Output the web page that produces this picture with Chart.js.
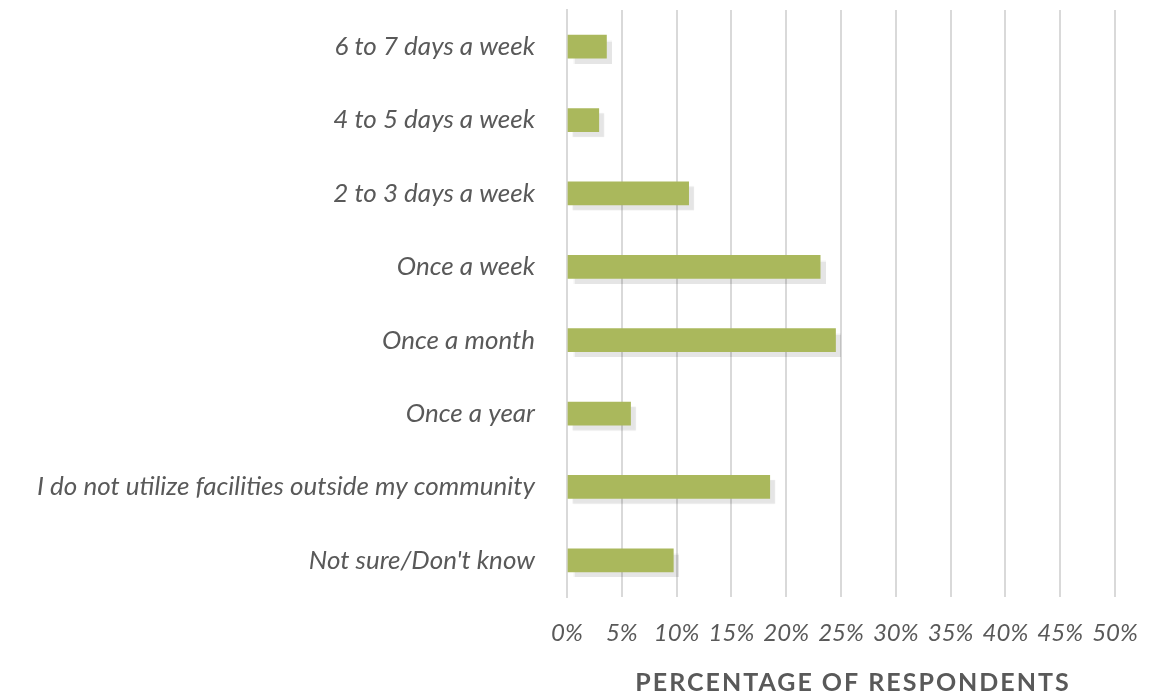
<!DOCTYPE html>
<html>
<head>
<meta charset="utf-8">
<title>Facility use outside the community</title>
<script src="https://cdn.jsdelivr.net/npm/chart.js@4.4.1/dist/chart.umd.min.js"></script>
<style>
    html, body { margin: 0; padding: 0; background: #ffffff; }
    #chart { display: block; }
</style>
</head>
<body>
<canvas id="chart" width="1164" height="698"></canvas>
<script>
// data
var categories = [
    '6 to 7 days a week',
    '4 to 5 days a week',
    '2 to 3 days a week',
    'Once a week',
    'Once a month',
    'Once a year',
    'I do not utilize facilities outside my community',
    "Not sure/Don't know"
];
var percentages = [3.6, 2.9, 11.1, 23.1, 24.5, 5.8, 18.5, 9.7];
var axisMin = 0;
var axisMax = 50;
var axisStep = 5;
var axisTitle = 'PERCENTAGE OF RESPONDENTS';

var textColor = '#595959';
var barColor = '#aab85c';
var gridColor = '#d9d9d9';

// grey drop shadow under the bars
var barShadow = {
    id: 'barShadow',
    beforeDatasetsDraw: function (chart) {
        var ctx = chart.ctx;
        ctx.save();
        ctx.shadowColor = 'rgba(0, 0, 0, 0.1)';
        ctx.shadowOffsetX = 5;
        ctx.shadowOffsetY = 5;
        ctx.shadowBlur = 1;
    },
    afterDatasetsDraw: function (chart) {
        chart.ctx.restore();
    }
};

// axis title with letter spacing (the scale title option has none)
var spacedAxisTitle = {
    id: 'spacedAxisTitle',
    afterDraw: function (chart) {
        var ctx = chart.ctx;
        var xScale = chart.scales.x;
        ctx.save();
        ctx.font = 'bold 25px Lato';
        ctx.letterSpacing = '2px';
        ctx.fillStyle = textColor;
        ctx.textAlign = 'center';
        ctx.textBaseline = 'middle';
        ctx.fillText(axisTitle, (xScale.left + xScale.right) / 2 + 12, xScale.bottom - 15);
        ctx.restore();
    }
};

function drawChart() {
    new Chart(document.getElementById('chart').getContext('2d'), {
        type: 'bar',
        data: {
            labels: categories,
            datasets: [{
                data: percentages,
                backgroundColor: barColor,
                borderWidth: 0,
                barThickness: 23
            }]
        },
        options: {
            indexAxis: 'y',
            responsive: false,
            animation: false,
            devicePixelRatio: 1,
            layout: {
                padding: {top: 10, right: 49, left: 0, bottom: 0}
            },
            plugins: {
                legend: {display: false},
                tooltip: {enabled: false}
            },
            scales: {
                x: {
                    min: axisMin,
                    max: axisMax,
                    ticks: {
                        stepSize: axisStep,
                        color: textColor,
                        padding: 22,
                        maxRotation: 0,
                        minRotation: 0,
                        autoSkip: false,
                        font: {family: 'Lato', size: 24, style: 'italic'},
                        callback: function (value) {
                            return value + '%';
                        }
                    },
                    grid: {
                        color: gridColor,
                        lineWidth: 2,
                        drawTicks: false
                    },
                    border: {display: false},
                    afterFit: function (scale) {
                        scale.height = 101;
                    }
                },
                y: {
                    ticks: {
                        color: textColor,
                        padding: 32,
                        font: {family: 'Lato', size: 26, style: 'italic'}
                    },
                    grid: {display: false, drawTicks: false},
                    border: {display: true, color: gridColor, width: 2},
                    afterFit: function (scale) {
                        scale.width = 567;
                        // the label padding should not push the plot down
                        scale.paddingTop = 0;
                        scale.paddingBottom = 0;
                    }
                }
            }
        },
        plugins: [barShadow, spacedAxisTitle]
    });
}

if (document.fonts && document.fonts.load) {
    Promise.all([
        document.fonts.load('italic 26px Lato'),
        document.fonts.load('italic 24px Lato'),
        document.fonts.load('bold 25px Lato')
    ]).then(drawChart, drawChart);
} else {
    drawChart();
}
</script>
</body>
</html>
